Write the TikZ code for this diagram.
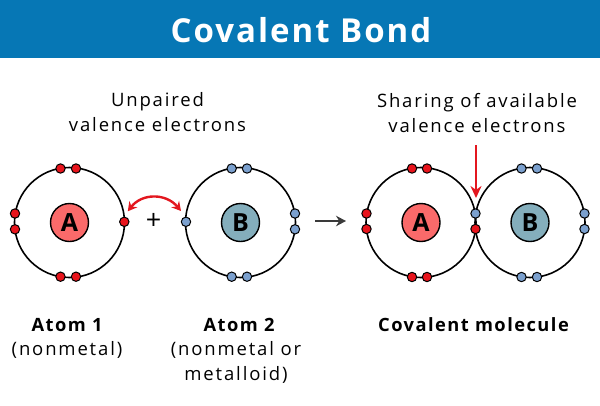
\documentclass[tikz,border=0pt]{standalone}
\usepackage{fontspec}
\setmainfont{Open Sans}[LetterSpace=10,BoldFeatures={LetterSpace=8}]
\newfontfamily\titlefont{Open Sans}[LetterSpace=6,BoldFeatures={LetterSpace=6}]
\newfontfamily\letterfont{Open Sans}[LetterSpace=0,BoldFeatures={LetterSpace=0}]
\usetikzlibrary{arrows.meta}
\definecolor{banner}{HTML}{0677B5}
\definecolor{elred}{HTML}{E8141C}
\definecolor{elblue}{HTML}{7BA0CE}
\definecolor{nucA}{HTML}{FA6A6A}
\definecolor{nucB}{HTML}{84AEBC}
\definecolor{arrowred}{HTML}{E3171F}
\definecolor{arrowgrey}{HTML}{3A3A3A}
\tikzset{
  x=1pt,y=-1pt,
  orbit/.style={circle,draw=black,line width=1.6pt,minimum size=110pt,inner sep=0pt,fill=none},
  nucleus/.style={circle,draw=black,line width=1.4pt,minimum size=38pt,inner sep=0pt,font=\letterfont\fontsize{25}{27}\selectfont\bfseries},
  redel/.style={circle,draw=black,line width=1pt,fill=elred,minimum size=9.4pt,inner sep=0pt},
  blueel/.style={circle,draw=black,line width=1pt,fill=elblue,minimum size=9.4pt,inner sep=0pt},
  lab/.style={align=center,font=\fontsize{18.5}{25}\selectfont},
  boldlab/.style={font=\fontsize{18.3}{25}\selectfont\bfseries},
}
\begin{document}
\begin{tikzpicture}
\useasboundingbox (0,0) rectangle (600,405);
\fill[banner] (0,0) rectangle (600,58);
\node[text=white,font=\titlefont\fontsize{33}{38}\selectfont\bfseries] (title) at (301,30) {Covalent Bond};
\node[lab] (unpaired) at (157.5,112.5) {Unpaired\\valence electrons};
\node[lab] (sharing) at (477,113) {Sharing of available\\valence electrons};
% left atom A
\node[orbit] (o1) at (69.5,222.5) {};
\node[nucleus,fill=nucA] (n1) at (69.5,222.5) {A};
\node[redel] (a1) at (60.5,168.5) {}; \node[redel] (a2) at (76,168.5) {};
\node[redel] (a3) at (60.5,276.7) {}; \node[redel] (a4) at (76,276.7) {};
\node[redel] (a5) at (15,213.5) {}; \node[redel] (a6) at (15,229.3) {};
\node[redel] (a7) at (124.3,221.8) {};
% left atom B
\node[orbit] (o2) at (240.5,222.5) {};
\node[nucleus,fill=nucB] (n2) at (240.5,222.5) {B};
\node[blueel] (b1) at (231.7,168.5) {}; \node[blueel] (b2) at (247,168.5) {};
\node[blueel] (b3) at (231.7,276.7) {}; \node[blueel] (b4) at (247,276.7) {};
\node[blueel] (b5) at (295,213.5) {}; \node[blueel] (b6) at (295,229.3) {};
\node[blueel] (b7) at (186,221.8) {};
\node[font=\letterfont\fontsize{27}{27}\selectfont] (plus) at (153.5,221) {+};
\draw[arrowred,line width=2.4pt,{Stealth[length=9pt,width=10pt]}-{Stealth[length=9pt,width=10pt]}] (a7) ++(3.5,-10.5) coordinate (p1) .. controls (142,193) and (166,193) .. (181,211) coordinate (p2);
% arrow
\coordinate (r0) at (315,221); \coordinate (r1) at (346,221);
\draw[arrowgrey,line width=2.3pt,-{Stealth[length=10pt,width=10.5pt]}] (r0) -- (r1);
% right molecule
\node[orbit] (o3) at (421,222.5) {};
\node[orbit] (o4) at (530,222.5) {};
\node[nucleus,fill=nucA] (n3) at (421,222.5) {A};
\node[nucleus,fill=nucB] (n4) at (530,222.5) {B};
\node[redel] (c1) at (412,168.5) {}; \node[redel] (c2) at (427,168.5) {};
\node[redel] (c3) at (412,277) {}; \node[redel] (c4) at (427,277) {};
\node[redel] (c5) at (366.5,213.5) {}; \node[redel] (c6) at (366.5,229) {};
\node[blueel] (d1) at (521.5,168.5) {}; \node[blueel] (d2) at (537,168.5) {};
\node[blueel] (d3) at (521.5,277) {}; \node[blueel] (d4) at (537,277) {};
\node[blueel] (d5) at (584.5,213.5) {}; \node[blueel] (d6) at (584.5,229) {};
\node[blueel] (s1) at (475.5,213.5) {};
\node[redel] (s2) at (475.5,229) {};
\coordinate (t0) at (476,145);
\draw[arrowred,line width=2.6pt,-{Stealth[length=12pt,width=11pt]}] (t0) -- (476,198);
% captions
\node[boldlab] (l1) at (67,325) {Atom 1};
\node[lab] (l1b) at (67,350) {(nonmetal)};
\node[boldlab] (l2) at (239,325) {Atom 2};
\node[lab] (l2b) at (236,362) {(nonmetal or\\metalloid)};
\node[boldlab] (l3) at (473.5,325) {Covalent molecule};
\end{tikzpicture}
\end{document}
